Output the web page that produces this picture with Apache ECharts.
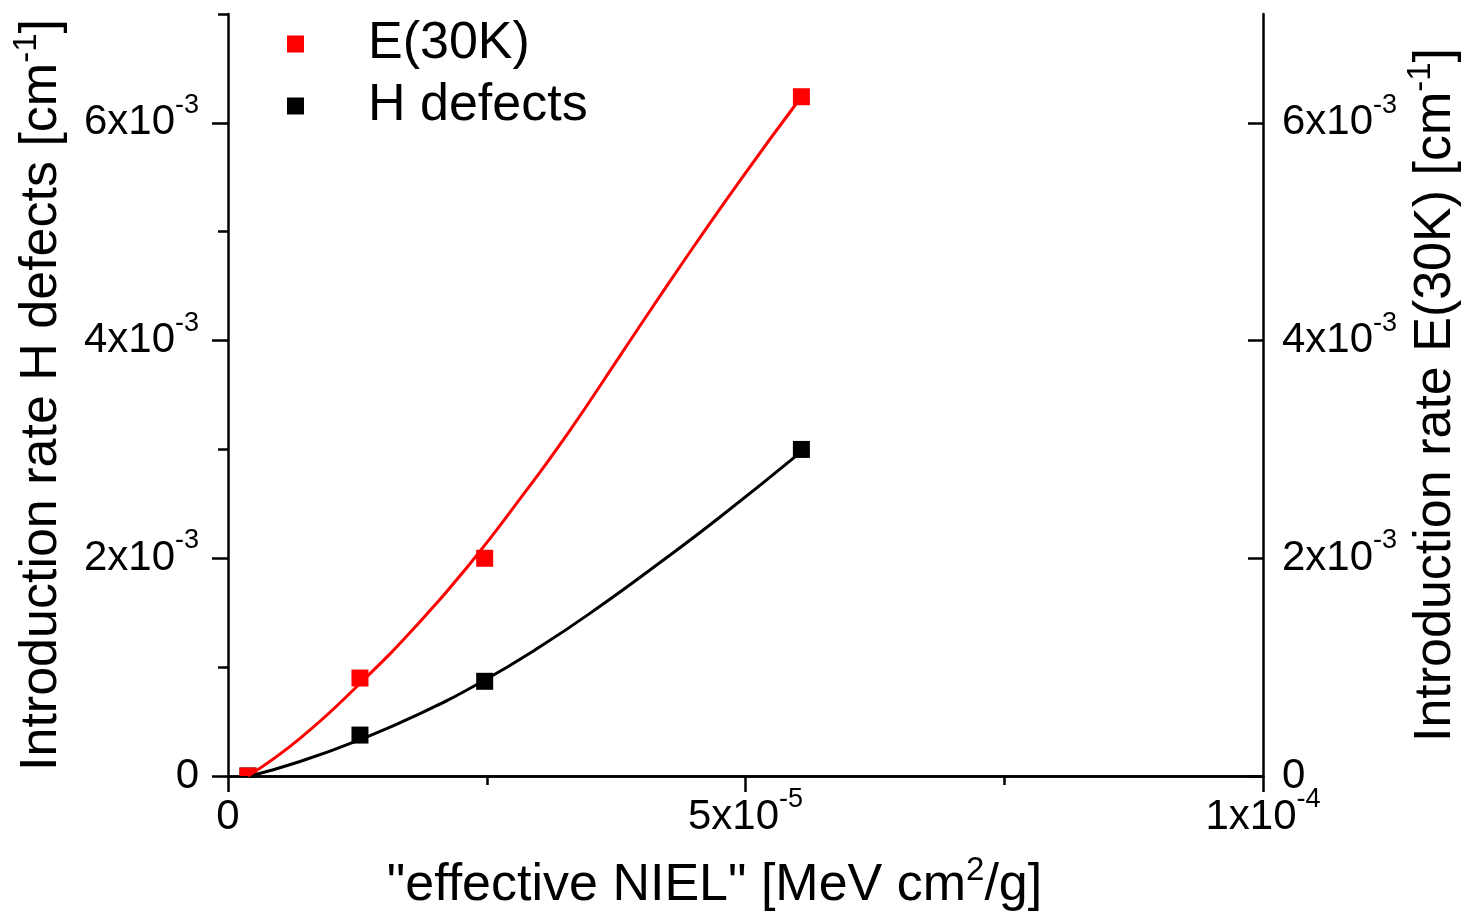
<!DOCTYPE html>
<html><head><meta charset="utf-8">
<script src="https://cdn.jsdelivr.net/npm/echarts@6/dist/echarts.min.js"></script>
<style>html,body{margin:0;padding:0;background:#fff}#c{width:1462px;height:917px}</style>
</head><body><div id="c"></div>
<script>
// ---- data ----
const seriesNames = ['E(30K)', 'H defects'];
const eNiel = [1.93e-6, 1.275e-5, 2.48e-5, 5.54e-5];
const e30k  = [0, 0.90e-3, 2.00e-3, 6.24e-3];
const hNiel = [1.93e-6, 1.275e-5, 2.48e-5, 5.54e-5];
const hDef  = [0, 0.376e-3, 0.87e-3, 3.00e-3];
// fitted curves
const eFitX = [1.93e-6, 6.96e-6, 1.275e-5, 1.855e-5, 2.338e-5, 2.821e-5, 3.304e-5, 3.787e-5, 4.367e-5, 4.947e-5, 5.54e-5];
const eFitY = [0, 0.346e-3, 0.850e-3, 1.417e-3, 1.950e-3, 2.545e-3, 3.176e-3, 3.860e-3, 4.68e-3, 5.47e-3, 6.24e-3];
const hFitX = [2.13e-6, 6.96e-6, 1.275e-5, 1.855e-5, 2.435e-5, 3.014e-5, 3.594e-5, 4.174e-5, 4.754e-5, 5.54e-5];
const hFitY = [0, 0.133e-3, 0.334e-3, 0.573e-3, 0.857e-3, 1.187e-3, 1.559e-3, 1.961e-3, 2.379e-3, 2.98e-3];
// tick labels: [mantissa text, exponent]
const xTickLabels = [['0', ''], ['5x10', '-5'], ['1x10', '-4']];
const yTickLabels = [['0', ''], ['2x10', '-3'], ['4x10', '-3'], ['6x10', '-3']];
const xTitle = ['"effective NIEL" [MeV cm', '2', '/g]'];
const yLeftTitle = ['Introduction rate H defects [cm', '-1', ']'];
const yRightTitle = ['Introduction rate E(30K) [cm', '-1', ']'];

// ---- helpers ----
const FONT = 'Liberation Sans, Arial, sans-serif';
const zip = (a, b) => a.map((v, i) => [v, b[i]]);
const tickRich = {
  b: { fontSize: 42, lineHeight: 42, fontFamily: FONT, color: '#000' },
  s: { fontSize: 27, lineHeight: 27, padding: [0, 0, 35, 0], fontFamily: FONT, color: '#000' },
  z: { fontSize: 42, lineHeight: 42, padding: [10, 0, 10, 0], fontFamily: FONT, color: '#000' }
};
function fmt(list, step) {
  return function (v) {
    const i = Math.round(v / step);
    const t = list[i];
    if (!t || Math.abs(v - i * step) > step * 1e-6) return '';
    return t[1] ? '{b|' + t[0] + '}{s|' + t[1] + '}' : '{z|' + t[0] + '}';
  };
}
const titleRich = {
  b: { fontSize: 52, lineHeight: 52, fontFamily: FONT, color: '#000' },
  s: { fontSize: 33, lineHeight: 33, padding: [0, 0, 30, 0], fontFamily: FONT, color: '#000' }
};
const title = t => '{b|' + t[0] + '}{s|' + t[1] + '}{b|' + t[2] + '}';
const LW = 2.5;

const squareRender = color => function (params, api) {
  const p = api.coord([api.value(0), api.value(1)]);
  return { type: 'rect', shape: { x: p[0] - 8.5, y: p[1] - 8.5, width: 17, height: 17 }, style: { fill: color } };
};

const chart = echarts.init(document.getElementById('c'), null, { renderer: 'canvas' });
chart.setOption({
  backgroundColor: '#fff',
  animation: false,
  grid: { left: 228, right: 199, top: 14, bottom: 141, containLabel: false, outerBoundsMode: 'none' },
  legend: {
    orient: 'vertical', left: 287, top: 18, itemGap: 10, padding: 0,
    itemWidth: 17, itemHeight: 17,
    formatter: name => '{t|' + name + '}',
    textStyle: {
      fontSize: 52, fontFamily: FONT, color: '#000',
      rich: { t: { fontSize: 52, lineHeight: 52, padding: [0, 0, 0, 59], fontFamily: FONT, color: '#000' } }
    },
    data: [
      { name: seriesNames[0], icon: 'rect' },
      { name: seriesNames[1], icon: 'rect' }
    ],
    selectedMode: false
  },
  xAxis: [
    {
      type: 'value', min: 0, max: 1e-4, interval: 5e-5, position: 'bottom',
      axisLine: { lineStyle: { color: '#000', width: LW } },
      axisTick: { inside: false, length: 16, lineStyle: { color: '#000', width: LW } },
      minorTick: { show: true, splitNumber: 2, length: 9, lineStyle: { color: '#000', width: LW } },
      splitLine: { show: false },
      axisLabel: { margin: 20, formatter: fmt(xTickLabels, 5e-5), rich: tickRich },
      name: title(xTitle), nameLocation: 'middle', nameGap: 84,
      nameTextStyle: { rich: titleRich, padding: [0, 62, 0, 0] }
    },
    {
      type: 'value', min: 0, max: 1e-4, position: 'top',
      axisLine: { lineStyle: { color: '#000', width: LW } },
      axisTick: { show: false }, axisLabel: { show: false }, splitLine: { show: false }
    }
  ],
  yAxis: [
    { // 0: left, H defects, major + labels
      type: 'value', min: 0, max: 7e-3, interval: 2e-3, position: 'left',
      axisLine: { onZero: false, lineStyle: { color: '#000', width: LW } },
      axisTick: { inside: false, length: 16, lineStyle: { color: '#000', width: LW } },
      splitLine: { show: false },
      axisLabel: { margin: 29, showMaxLabel: false, formatter: fmt(yTickLabels, 2e-3), rich: tickRich },
      name: title(yLeftTitle), nameLocation: 'middle', nameRotate: 90, nameGap: 141,
      nameTextStyle: { rich: titleRich }
    },
    { // 1: right, E(30K), major + labels, ticks inside
      type: 'value', min: 0, max: 7e-3, interval: 2e-3, position: 'right',
      axisLine: { onZero: false, lineStyle: { color: '#000', width: LW } },
      axisTick: { inside: true, length: 15, lineStyle: { color: '#000', width: LW } },
      splitLine: { show: false },
      axisLabel: { margin: 19, showMaxLabel: false, formatter: fmt(yTickLabels, 2e-3), rich: tickRich },
      name: title(yRightTitle), nameLocation: 'middle', nameRotate: 90, nameGap: 147,
      nameMoveOverlap: false,
      nameTextStyle: { rich: titleRich }
    },
    { // 2: left minor ticks
      type: 'value', min: 0, max: 7e-3, interval: 1e-3, position: 'left',
      axisLine: { show: false }, axisLabel: { show: false }, splitLine: { show: false },
      axisTick: { inside: false, length: 10, lineStyle: { color: '#000', width: LW } }
    },
    { // 3: right minor ticks
      type: 'value', min: 0, max: 7e-3, interval: 1e-3, position: 'right',
      axisLine: { show: false }, axisLabel: { show: false }, splitLine: { show: false },
      axisTick: { inside: true, length: 9, lineStyle: { color: '#000', width: LW } }
    }
  ],
  series: [
    {
      name: 'H defects fit', type: 'line', xAxisIndex: 0, yAxisIndex: 0,
      data: zip(hFitX, hFitY), smooth: 0.5, showSymbol: false, clip: true,
      lineStyle: { color: '#000', width: 3 }, itemStyle: { color: '#000' }
    },
    {
      name: seriesNames[1], type: 'custom', xAxisIndex: 0, yAxisIndex: 0, clip: true,
      data: zip(hNiel, hDef), encode: { x: 0, y: 1 },
      renderItem: squareRender('#000'), itemStyle: { color: '#000' }
    },
    {
      name: 'E(30K) fit', type: 'line', xAxisIndex: 0, yAxisIndex: 1,
      data: zip(eFitX, eFitY), smooth: 0.5, showSymbol: false, clip: true,
      lineStyle: { color: '#ff0000', width: 3 }, itemStyle: { color: '#ff0000' }
    },
    {
      name: seriesNames[0], type: 'custom', xAxisIndex: 0, yAxisIndex: 1, clip: true,
      data: zip(eNiel, e30k), encode: { x: 0, y: 1 },
      renderItem: squareRender('#ff0000'), itemStyle: { color: '#ff0000' }
    }
  ]
});
</script>
</body></html>
